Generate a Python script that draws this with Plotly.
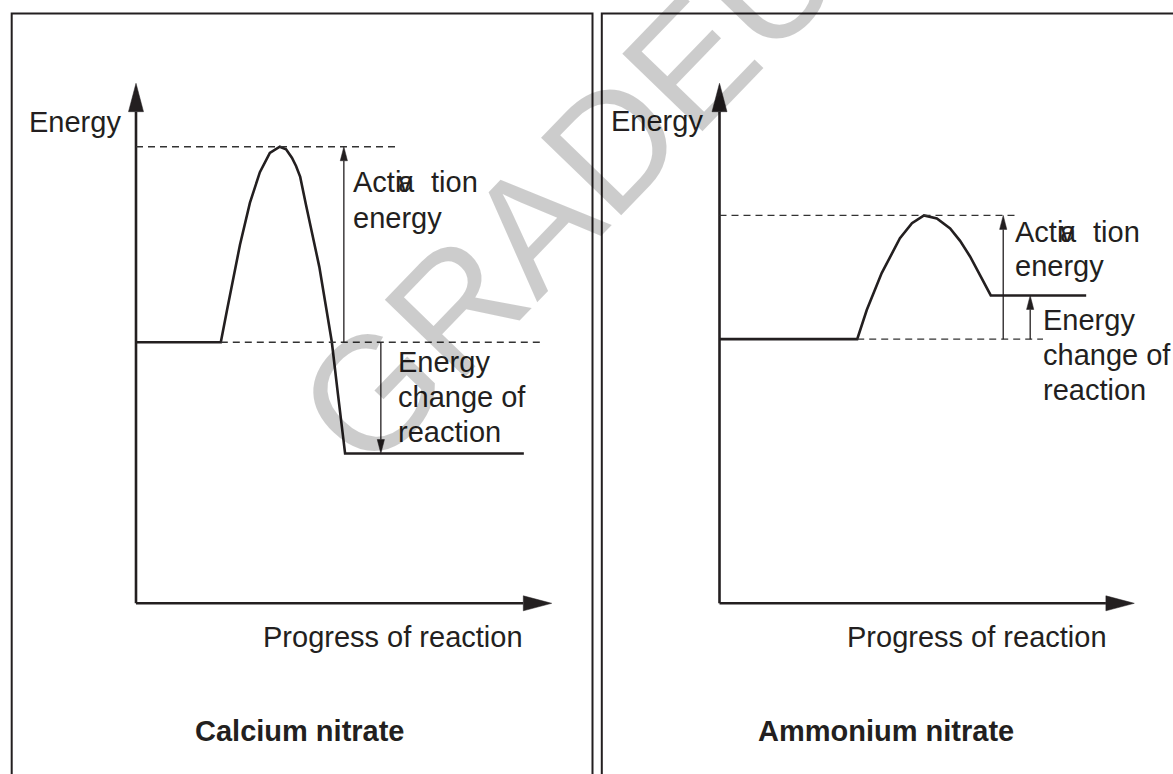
import plotly.graph_objects as go

# ---------------- data (energy diagram, arbitrary units 0-100) ----------------
# Calcium nitrate (exothermic)
ca_progress = [0, 20.4, 21.9, 23.4, 25.0, 27.4, 29.8, 32.2, 34.6, 36.1, 37.5, 38.5,
               39.5, 40.9, 42.7, 44.1, 45.6, 47.1, 48.6, 50.3, 93.3]
ca_energy = [50.2, 50.2, 56.4, 62.2, 68.9, 77.0, 82.9, 86.6, 87.8, 87.3, 85.7, 84.1,
             82.0, 76.6, 69.9, 64.7, 57.5, 50.3, 40.1, 28.8, 28.8]
ca_levels = {"reactants": 50.2, "peak": 87.8, "products": 28.8}

# Ammonium nitrate (endothermic)
am_progress = [0, 33.2, 35.5, 39.1, 43.5, 46.4, 49.3, 52.4, 55.6, 58.0, 60.4, 62.8,
               65.4, 88.4]
am_energy = [50.8, 50.8, 56.4, 63.5, 70.2, 73.1, 74.6, 74.0, 72.1, 69.7, 66.7, 63.1,
             59.2, 59.2]
am_levels = {"reactants": 50.8, "peak": 74.6, "products": 59.2}

panel_titles = ["Calcium nitrate", "Ammonium nitrate"]
x_label = "Progress of reaction"
y_label = "Energy"

# ---------------- layout constants ----------------
W, H = 1173, 774
OFF = 0            # body margin is removed by post_script below
INK = "#231f20"
FONT = "Liberation Sans, Arial, Helvetica, sans-serif"
FS = 29
PAD = 20


def px(x):
    return (x - OFF) / W


def py(y):
    return 1 - (y - OFF) / H


fig = go.Figure()
shapes = []
annotations = []


def setup_axes(idx, x0px, x1px, ybot, ytop):
    kx = (x1px - x0px) / 100.0
    ky = (ybot - ytop) / 100.0
    xa = dict(domain=[px(x0px - PAD), px(x1px + PAD)], range=[-PAD / kx, 100 + PAD / kx],
              visible=False, fixedrange=True)
    ya = dict(domain=[py(ybot + PAD), py(ytop - PAD)], range=[-PAD / ky, 100 + PAD / ky],
              visible=False, fixedrange=True)
    sx = "" if idx == 1 else str(idx)
    fig.update_layout(**{"xaxis" + sx: xa, "yaxis" + sx: ya})
    if idx != 1:
        fig.layout["xaxis" + sx].anchor = "y" + sx
        fig.layout["yaxis" + sx].anchor = "x" + sx
    return kx, ky, "x" + sx, "y" + sx


def tri(xr, yr, pts, color=INK):
    p = "M " + " L ".join(f"{a},{b}" for a, b in pts) + " Z"
    shapes.append(dict(type="path", path=p, xref=xr, yref=yr, fillcolor=color,
                       line=dict(color=color, width=0.5)))


def line(xr, yr, x0, y0, x1, y1, width, dash=None, color=INK):
    ln = dict(color=color, width=width)
    if dash:
        ln["dash"] = dash
    shapes.append(dict(type="line", xref=xr, yref=yr, x0=x0, y0=y0, x1=x1, y1=y1, line=ln))


def panel(idx, x0px, x1px, progress, energy, levels, ea_x, dh_x, top_dash_end,
          mid_dash):
    kx, ky, xr, yr = setup_axes(idx, x0px, x1px, 603.3, 83.3)
    # main axes with big arrowheads
    hl, hw = 28.4, 7.5
    line(xr, yr, 0, 0, 0, 100 - hl / ky, 2.6)
    tri(xr, yr, [(0, 100), (-hw / kx, 100 - hl / ky), (hw / kx, 100 - hl / ky)])
    line(xr, yr, 0, 0, 100 - hl / kx, 0, 2.6)
    tri(xr, yr, [(100, 0), (100 - hl / kx, -hw / ky), (100 - hl / kx, hw / ky)])
    # dashed guide lines
    dash = "7px,5px"
    line(xr, yr, 0, levels["peak"], top_dash_end, levels["peak"], 1.4, dash, "#333333")
    line(xr, yr, mid_dash[0], levels["reactants"], mid_dash[1], levels["reactants"], 1.4,
         dash, "#333333")
    # thin arrows
    sl, sw = 14, 3.6
    r, p, prod = levels["reactants"], levels["peak"], levels["products"]
    line(xr, yr, ea_x, r, ea_x, p - sl / ky, 1.3)
    tri(xr, yr, [(ea_x, p), (ea_x - sw / kx, p - sl / ky), (ea_x + sw / kx, p - sl / ky)])
    sgn = 1 if prod > r else -1
    line(xr, yr, dh_x, r, dh_x, prod - sgn * sl / ky, 1.3)
    tri(xr, yr, [(dh_x, prod), (dh_x - sw / kx, prod - sgn * sl / ky),
                 (dh_x + sw / kx, prod - sgn * sl / ky)])
    # energy profile
    fig.add_trace(go.Scatter(x=progress, y=energy, mode="lines", xaxis=xr, yaxis=yr,
                             line=dict(color=INK, width=2.6), hoverinfo="skip",
                             showlegend=False))


panel(1, 136, 551.7, ca_progress, ca_energy, ca_levels, 50.0, 58.9, 63.0, (20.4, 97.4))
panel(2, 719.5, 1134.3, am_progress, am_energy, am_levels, 68.4, 74.9, 72.0, (33.2, 78.0))


def label(text, x, baseline, anchor="left", size=FS, bold=False):
    cy = baseline - 0.3465 * size
    annotations.append(dict(text=f"<b>{text}</b>" if bold else text, x=px(x), y=py(cy),
                            xref="paper", yref="paper", xanchor=anchor, yanchor="middle",
                            showarrow=False, borderpad=0, borderwidth=0,
                            font=dict(family=FONT, size=size, color=INK)))


def activation(x, base1, base2):
    label("Acti", x, base1)
    label("v", x + 45, base1)
    label("a", x + 45, base1)
    label("tion", x + 78, base1)
    label("energy", x, base2)


def change(x, b):
    label("Energy", x, b)
    label("change of", x, b + 35)
    label("reaction", x, b + 70)


# left panel texts
label(y_label, 29, 132)
activation(353, 191.7, 227.7)
change(398, 371.7)
label(x_label, 393, 647, anchor="center")
label(panel_titles[0], 300, 741, anchor="center", bold=True)

# right panel texts
label(y_label, 611, 131)
activation(1015, 241.7, 276.5)
change(1043, 330)
label(x_label, 977, 647, anchor="center")
label(panel_titles[1], 885.5, 741, anchor="center", bold=True)

# watermark
annotations.append(dict(text="GRADEUP", x=px(605), y=py(150), xref="paper", yref="paper",
                        xanchor="center", yanchor="middle", showarrow=False,
                        textangle=-46, font=dict(family=FONT, size=162,
                                                 color="rgba(0,0,0,0.2)")))

# panel frames
for x0, x1 in [(11.7, 592.5), (601.8, 1300)]:
    shapes.append(dict(type="rect", xref="paper", yref="paper", x0=px(x0), x1=px(x1),
                       y0=py(800), y1=py(13.5), line=dict(color=INK, width=2),
                       fillcolor="rgba(0,0,0,0)", layer="below"))

fig.update_layout(width=W, height=H, margin=dict(l=0, r=0, t=0, b=0),
                  paper_bgcolor="white", plot_bgcolor="rgba(0,0,0,0)",
                  shapes=shapes, annotations=annotations, showlegend=False)

fig.write_html("out.html", config={"displayModeBar": False},
               post_script="document.body.style.margin='0px';"
                           "document.body.style.overflow='hidden';")
